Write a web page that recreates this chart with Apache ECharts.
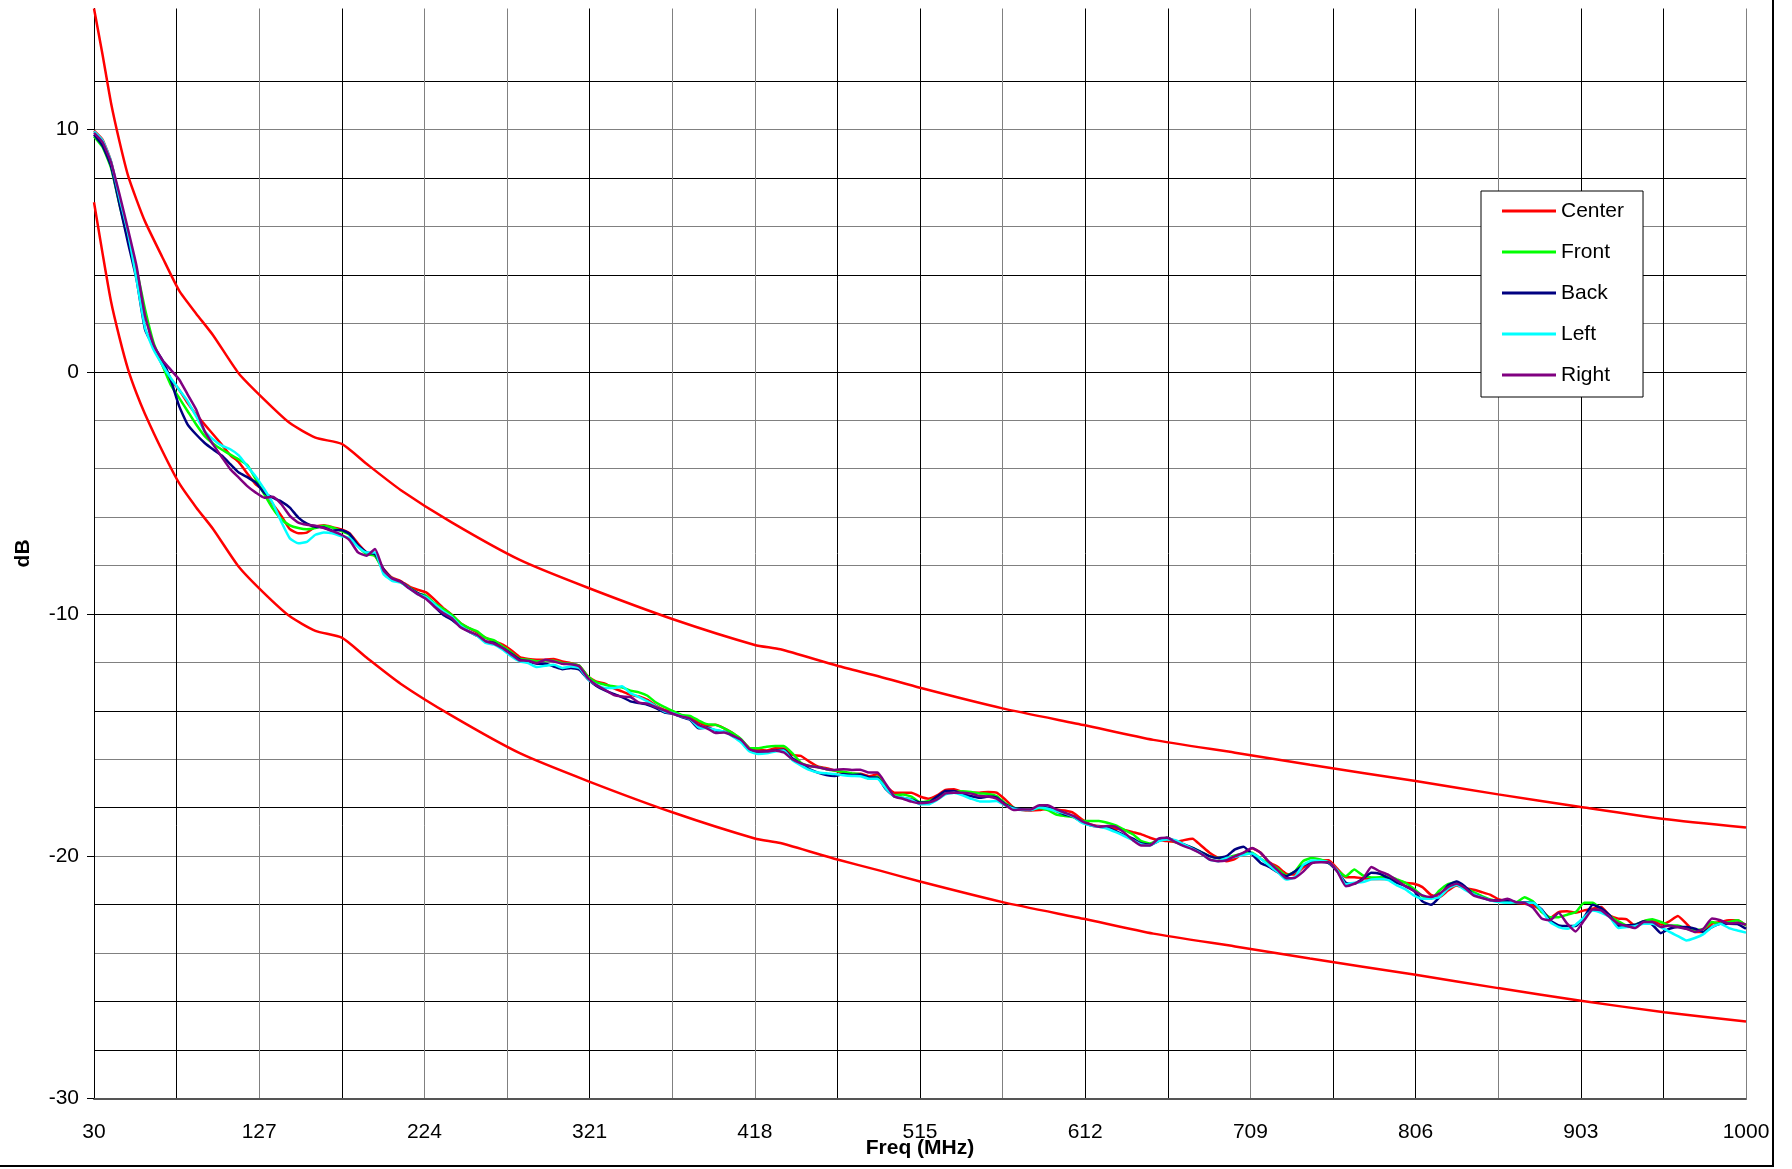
<!DOCTYPE html>
<html>
<head>
<meta charset="utf-8">
<title>Freq response</title>
<script src="https://cdn.jsdelivr.net/npm/echarts@6/dist/echarts.min.js"></script>
<style>
  html, body { margin: 0; padding: 0; background: #ffffff; }
  #chart { width: 1792px; height: 1169px; }
</style>
</head>
<body>
<div id="chart"></div>
<script>
// Measurement frequencies (MHz), 5 MHz steps
const freqs = [
  30, 35, 40, 45, 50, 55, 60, 65, 70, 75,
  80, 85, 90, 95, 100, 105, 110, 115, 120, 125,
  130, 135, 140, 145, 150, 155, 160, 165, 170, 175,
  180, 185, 190, 195, 200, 205, 210, 215, 220, 225,
  230, 235, 240, 245, 250, 255, 260, 265, 270, 275,
  280, 285, 290, 295, 300, 305, 310, 315, 320, 325,
  330, 335, 340, 345, 350, 355, 360, 365, 370, 375,
  380, 385, 390, 395, 400, 405, 410, 415, 420, 425,
  430, 435, 440, 445, 450, 455, 460, 465, 470, 475,
  480, 485, 490, 495, 500, 505, 510, 515, 520, 525,
  530, 535, 540, 545, 550, 555, 560, 565, 570, 575,
  580, 585, 590, 595, 600, 605, 610, 615, 620, 625,
  630, 635, 640, 645, 650, 655, 660, 665, 670, 675,
  680, 685, 690, 695, 700, 705, 710, 715, 720, 725,
  730, 735, 740, 745, 750, 755, 760, 765, 770, 775,
  780, 785, 790, 795, 800, 805, 810, 815, 820, 825,
  830, 835, 840, 845, 850, 855, 860, 865, 870, 875,
  880, 885, 890, 895, 900, 905, 910, 915, 920, 925,
  930, 935, 940, 945, 950, 955, 960, 965, 970, 975,
  980, 985, 990, 995, 1000
];

// Response per position (dB)
const center = [
  9.96, 9.59, 8.69, 7.11, 5.60, 3.94, 2.43, 1.05, 0.30, -0.32,
  -0.74, -1.29, -1.77, -2.18, -2.59, -3.01, -3.44, -3.73, -4.20, -4.65,
  -4.92, -5.47, -5.95, -6.50, -6.67, -6.64, -6.40, -6.34, -6.42, -6.50,
  -6.67, -7.09, -7.46, -7.60, -8.15, -8.50, -8.64, -8.86, -9.00, -9.11,
  -9.41, -9.75, -10.03, -10.37, -10.58, -10.76, -10.99, -11.13, -11.27, -11.50,
  -11.78, -11.86, -11.89, -11.89, -11.86, -11.96, -12.03, -12.14, -12.58, -12.80,
  -12.88, -13.06, -13.20, -13.34, -13.41, -13.55, -13.79, -13.96, -14.04, -14.18,
  -14.29, -14.48, -14.61, -14.58, -14.72, -14.92, -15.20, -15.55, -15.61, -15.64,
  -15.55, -15.56, -15.82, -15.86, -16.10, -16.30, -16.37, -16.47, -16.58, -16.61,
  -16.60, -16.70, -16.62, -17.10, -17.38, -17.38, -17.38, -17.54, -17.63, -17.49,
  -17.27, -17.24, -17.35, -17.38, -17.38, -17.35, -17.38, -17.66, -18.00, -18.10,
  -18.12, -18.10, -18.04, -18.07, -18.12, -18.21, -18.48, -18.69, -18.76, -18.79,
  -18.87, -18.92, -19.01, -19.10, -19.24, -19.34, -19.38, -19.42, -19.34, -19.28,
  -19.56, -19.86, -20.07, -20.21, -20.11, -19.86, -19.67, -19.86, -20.25, -20.44,
  -20.72, -20.76, -20.47, -20.29, -20.18, -20.17, -20.52, -20.87, -20.87, -20.91,
  -20.94, -20.94, -20.94, -21.00, -21.10, -21.14, -21.28, -21.60, -21.69, -21.42,
  -21.21, -21.32, -21.39, -21.49, -21.60, -21.79, -21.87, -21.93, -21.97, -22.04,
  -22.24, -22.56, -22.31, -22.28, -22.34, -22.24, -22.17, -22.10, -22.45, -22.58,
  -22.61, -22.89, -22.69, -22.65, -22.83, -22.69, -22.47, -22.79, -23.13, -23.13,
  -22.79, -22.72, -22.65, -22.65, -22.86
];

const front = [
  9.72, 9.28, 8.42, 6.90, 5.46, 4.22, 2.57, 1.19, 0.30, -0.53,
  -1.08, -1.63, -2.18, -2.66, -2.97, -3.21, -3.42, -3.62, -3.85, -4.44,
  -5.06, -5.65, -6.09, -6.34, -6.45, -6.50, -6.45, -6.36, -6.43, -6.57,
  -6.73, -7.19, -7.53, -7.60, -8.22, -8.53, -8.70, -8.90, -9.14, -9.25,
  -9.56, -9.79, -10.03, -10.37, -10.58, -10.72, -10.99, -11.09, -11.34, -11.59,
  -11.86, -11.89, -11.96, -11.92, -11.93, -12.03, -12.06, -12.14, -12.58, -12.83,
  -12.92, -12.99, -13.03, -13.17, -13.24, -13.38, -13.66, -13.85, -14.01, -14.17,
  -14.21, -14.40, -14.55, -14.58, -14.72, -14.92, -15.17, -15.55, -15.55, -15.48,
  -15.45, -15.45, -15.75, -16.14, -16.28, -16.33, -16.41, -16.47, -16.52, -16.58,
  -16.63, -16.80, -16.72, -17.17, -17.49, -17.46, -17.54, -17.77, -17.72, -17.59,
  -17.41, -17.35, -17.32, -17.35, -17.41, -17.43, -17.52, -17.82, -18.00, -18.07,
  -18.07, -18.01, -18.10, -18.28, -18.34, -18.39, -18.55, -18.55, -18.55, -18.62,
  -18.73, -18.92, -19.10, -19.38, -19.48, -19.34, -19.24, -19.42, -19.56, -19.66,
  -19.83, -20.00, -20.08, -20.07, -19.97, -19.89, -19.86, -20.11, -20.30, -20.52,
  -20.80, -20.64, -20.20, -20.08, -20.14, -20.28, -20.59, -20.83, -20.55, -20.80,
  -20.88, -20.87, -20.83, -20.96, -21.10, -21.35, -21.65, -21.76, -21.42, -21.16,
  -21.07, -21.32, -21.49, -21.65, -21.79, -21.87, -21.90, -21.90, -21.70, -21.87,
  -22.31, -22.52, -22.52, -22.42, -22.31, -21.93, -21.93, -22.20, -22.47, -22.69,
  -22.86, -22.83, -22.69, -22.61, -22.72, -22.86, -22.86, -23.00, -23.07, -23.00,
  -22.72, -22.79, -22.72, -22.65, -22.86
];

const back = [
  9.79, 9.34, 8.49, 6.90, 5.32, 3.81, 1.74, 1.05, 0.50, -0.32,
  -1.42, -2.18, -2.59, -2.94, -3.21, -3.46, -3.81, -4.16, -4.35, -4.58,
  -5.00, -5.20, -5.36, -5.61, -6.02, -6.27, -6.40, -6.43, -6.56, -6.53,
  -6.69, -7.16, -7.46, -7.53, -8.15, -8.56, -8.67, -8.92, -9.14, -9.31,
  -9.70, -10.03, -10.24, -10.51, -10.72, -10.90, -11.13, -11.20, -11.41, -11.64,
  -11.89, -11.96, -12.06, -12.06, -12.17, -12.28, -12.23, -12.30, -12.69, -12.97,
  -13.16, -13.30, -13.43, -13.61, -13.68, -13.75, -13.89, -14.07, -14.12, -14.26,
  -14.37, -14.72, -14.69, -14.81, -14.86, -15.03, -15.27, -15.64, -15.72, -15.68,
  -15.64, -15.61, -15.96, -16.19, -16.41, -16.55, -16.65, -16.69, -16.61, -16.65,
  -16.63, -16.75, -16.76, -17.24, -17.54, -17.60, -17.66, -17.79, -17.79, -17.54,
  -17.31, -17.31, -17.45, -17.52, -17.59, -17.54, -17.59, -17.86, -18.01, -18.07,
  -18.10, -17.96, -18.00, -18.14, -18.28, -18.37, -18.59, -18.73, -18.79, -18.83,
  -18.97, -19.14, -19.28, -19.48, -19.53, -19.38, -19.24, -19.38, -19.52, -19.66,
  -19.83, -20.00, -20.08, -20.00, -19.72, -19.61, -19.93, -20.28, -20.44, -20.66,
  -20.83, -20.64, -20.38, -20.25, -20.22, -20.29, -20.63, -21.10, -21.14, -20.94,
  -20.69, -20.73, -20.91, -21.10, -21.24, -21.43, -21.87, -22.01, -21.69, -21.21,
  -21.05, -21.25, -21.57, -21.71, -21.82, -21.84, -21.83, -21.90, -21.90, -21.93,
  -22.20, -22.65, -22.86, -22.89, -22.89, -22.52, -22.01, -22.15, -22.45, -22.89,
  -22.86, -22.83, -22.69, -22.83, -23.18, -23.00, -22.93, -22.93, -23.00, -23.13,
  -22.93, -22.79, -22.79, -22.80, -23.00
];

const left = [
  9.93, 9.56, 8.69, 7.18, 5.73, 3.81, 1.81, 0.91, 0.30, -0.25,
  -0.74, -1.22, -1.84, -2.46, -2.80, -3.05, -3.20, -3.45, -3.90, -4.33,
  -4.85, -5.43, -6.20, -6.88, -7.08, -7.02, -6.73, -6.64, -6.67, -6.78,
  -6.86, -7.23, -7.46, -7.46, -8.35, -8.63, -8.70, -8.94, -9.18, -9.31,
  -9.60, -9.89, -10.12, -10.48, -10.72, -10.90, -11.20, -11.27, -11.48, -11.75,
  -11.96, -12.03, -12.19, -12.14, -12.10, -12.23, -12.17, -12.23, -12.69, -12.92,
  -13.06, -13.06, -12.99, -13.27, -13.43, -13.61, -13.82, -14.03, -14.10, -14.23,
  -14.34, -14.68, -14.72, -14.79, -14.86, -15.06, -15.31, -15.68, -15.78, -15.75,
  -15.68, -15.64, -16.03, -16.25, -16.44, -16.55, -16.58, -16.61, -16.66, -16.69,
  -16.70, -16.80, -16.80, -17.21, -17.52, -17.59, -17.68, -17.86, -17.86, -17.68,
  -17.45, -17.38, -17.49, -17.63, -17.74, -17.74, -17.72, -17.90, -18.04, -18.10,
  -18.10, -17.99, -18.04, -18.14, -18.23, -18.37, -18.62, -18.73, -18.79, -18.87,
  -19.01, -19.17, -19.34, -19.52, -19.56, -19.38, -19.31, -19.34, -19.52, -19.70,
  -19.89, -20.14, -20.21, -20.08, -20.03, -19.94, -19.89, -20.11, -20.39, -20.66,
  -20.97, -20.87, -20.36, -20.18, -20.19, -20.25, -20.59, -21.16, -21.10, -21.07,
  -20.96, -20.94, -20.99, -21.21, -21.37, -21.62, -21.76, -21.76, -21.69, -21.35,
  -21.18, -21.39, -21.57, -21.71, -21.82, -21.90, -21.93, -21.90, -21.93, -21.93,
  -22.24, -22.72, -22.93, -23.00, -22.83, -22.52, -22.25, -22.34, -22.52, -22.97,
  -22.93, -22.89, -22.79, -22.79, -22.93, -23.13, -23.30, -23.48, -23.38, -23.22,
  -22.93, -22.79, -22.97, -23.07, -23.16
];

const right = [
  9.86, 9.48, 8.65, 7.32, 5.87, 4.36, 2.29, 1.12, 0.50, 0.09,
  -0.32, -0.94, -1.56, -2.46, -3.01, -3.52, -4.02, -4.37, -4.72, -4.99,
  -5.20, -5.16, -5.47, -5.95, -6.23, -6.32, -6.36, -6.45, -6.58, -6.72,
  -6.95, -7.46, -7.60, -7.32, -8.20, -8.53, -8.67, -8.94, -9.18, -9.38,
  -9.70, -9.96, -10.17, -10.54, -10.72, -10.87, -11.13, -11.23, -11.41, -11.67,
  -11.92, -11.93, -12.03, -11.89, -11.96, -12.06, -12.08, -12.17, -12.65, -12.94,
  -13.13, -13.34, -13.41, -13.43, -13.66, -13.71, -13.85, -13.99, -14.12, -14.23,
  -14.32, -14.58, -14.72, -14.92, -14.90, -15.03, -15.20, -15.59, -15.68, -15.68,
  -15.64, -15.72, -16.00, -16.17, -16.28, -16.33, -16.41, -16.44, -16.41, -16.44,
  -16.43, -16.55, -16.55, -17.03, -17.54, -17.63, -17.75, -17.82, -17.79, -17.66,
  -17.41, -17.38, -17.38, -17.42, -17.52, -17.54, -17.63, -17.88, -18.10, -18.07,
  -18.07, -17.90, -17.90, -18.07, -18.21, -18.34, -18.55, -18.69, -18.79, -18.76,
  -18.79, -19.03, -19.34, -19.56, -19.56, -19.28, -19.24, -19.42, -19.59, -19.72,
  -19.90, -20.14, -20.21, -20.17, -20.00, -19.86, -19.66, -19.86, -20.25, -20.58,
  -20.91, -20.90, -20.64, -20.29, -20.25, -20.25, -20.63, -21.24, -21.14, -20.96,
  -20.45, -20.63, -20.77, -21.00, -21.24, -21.43, -21.62, -21.69, -21.55, -21.28,
  -21.14, -21.32, -21.62, -21.73, -21.82, -21.84, -21.76, -21.90, -21.93, -22.14,
  -22.58, -22.65, -22.34, -22.79, -23.11, -22.65, -22.20, -22.24, -22.52, -22.79,
  -22.89, -22.97, -22.72, -22.72, -22.93, -22.86, -22.93, -23.00, -23.13, -23.00,
  -22.58, -22.65, -22.79, -22.75, -22.83
];

// Limit mask (dB)
const limitFreqs = [
  30, 35, 40, 45, 50, 55, 60, 70, 80, 90, 100, 115, 130, 145, 160, 175.5,
  190, 210, 240, 280, 320, 370, 418, 433, 466.5, 491.5, 515, 563.5, 612, 652,
  700, 744, 806, 854.5, 903, 952, 1000
];
const upperLimit = [
  15.0, 13.1, 11.1, 9.5, 8.1, 7.1, 6.2, 4.75, 3.35, 2.4, 1.5, -0.07, -1.15, -2.12, -2.72, -2.98,
  -3.8, -4.88, -6.22, -7.77, -8.92, -10.22, -11.28, -11.46, -12.14, -12.59, -13.05, -13.9, -14.6, -15.2,
  -15.73, -16.23, -16.9, -17.45, -17.97, -18.47, -18.82
];
const lowerLimit = [
  7.0, 4.9, 2.9, 1.4, 0.1, -0.9, -1.75, -3.25, -4.6, -5.6, -6.5, -8.05, -9.15, -10.1, -10.7, -10.98,
  -11.8, -12.88, -14.2, -15.75, -16.9, -18.2, -19.27, -19.46, -20.14, -20.6, -21.05, -21.9, -22.6, -23.2,
  -23.73, -24.23, -24.9, -25.45, -25.97, -26.45, -26.83
];

// Axis ticks
const xGridValues = [30, 78.5, 127, 175.5, 224, 272.5, 321, 369.5, 418, 466.5, 515,
  563.5, 612, 660.5, 709, 757.5, 806, 854.5, 903, 951.5, 1000];
const xLabelValues = [30, 127, 224, 321, 418, 515, 612, 709, 806, 903, 1000];
const yGridValues = [-30, -28, -26, -24, -22, -20, -18, -16, -14, -12, -10, -8, -6, -4, -2,
  0, 2, 4, 6, 8, 10, 12, 14];
const yLabelValues = [-30, -20, -10, 0, 10];

const FONT = '"Liberation Sans", Arial, Helvetica, sans-serif';
const BLK = '#000000';
const GRY = '#808080';

const toPoints = (xs, ys) => xs.map((x, i) => [x, ys[i]]);

function trace(name, values, color) {
  return {
    type: 'line', name: name,
    data: toPoints(freqs, values),
    showSymbol: false, symbol: 'none',
    smooth: 0.15,
    lineStyle: { color: color, width: 2.5 },
    itemStyle: { color: color },
    emphasis: { disabled: true }
  };
}
function limit(name, values) {
  return {
    type: 'line', name: name,
    data: toPoints(limitFreqs, values),
    showSymbol: false, symbol: 'none',
    smooth: 0.2,
    lineStyle: { color: '#ff0000', width: 2.5 },
    itemStyle: { color: '#ff0000' },
    emphasis: { disabled: true }
  };
}

const chart = echarts.init(document.getElementById('chart'), null, { renderer: 'canvas', width: 1792, height: 1169 });

chart.setOption({
  animation: false,
  backgroundColor: '#ffffff',
  grid: { left: 94, right: 46, top: 8.5, bottom: 70.7, containLabel: false, outerBoundsMode: 'none' },
  xAxis: {
    type: 'value', min: 30, max: 1000, position: 'bottom',
    axisLine: { show: true, onZero: false, lineStyle: { color: '#555555', width: 2 } },
    axisTick: { show: false, customValues: xGridValues },
    axisLabel: {
      customValues: xLabelValues, margin: 23,
      fontSize: 21, color: BLK, fontFamily: FONT,
      formatter: v => String(v)
    },
    splitLine: {
      show: true,
      lineStyle: {
        width: 1,
        color: [BLK, BLK, GRY, BLK, GRY, GRY, BLK, GRY, GRY, BLK, BLK,
                GRY, BLK, BLK, GRY, BLK, BLK, GRY, BLK, BLK, GRY]
      }
    },
    name: 'Freq (MHz)', nameLocation: 'middle', nameGap: 39, nameMoveOverlap: false,
    nameTextStyle: { fontSize: 21, fontWeight: 'bold', color: BLK, fontFamily: FONT }
  },
  yAxis: [
    {
      type: 'value', min: -30, max: 15, position: 'left',
      axisLine: { show: true, onZero: false, lineStyle: { color: BLK, width: 1 } },
      axisTick: { show: false, customValues: yGridValues },
      axisLabel: {
        customValues: yLabelValues, margin: 15,
        fontSize: 21, color: BLK, fontFamily: FONT,
        formatter: v => String(v)
      },
      splitLine: {
        show: true, showMaxLine: false,
        lineStyle: {
          width: 1,
          color: [GRY, BLK, BLK, GRY, BLK, GRY, BLK, GRY, BLK, GRY, BLK, GRY,
                  GRY, GRY, GRY, BLK, GRY, BLK, GRY, BLK, GRY, BLK, GRY]
        }
      },
      name: 'dB', nameLocation: 'middle', nameGap: 60, nameRotate: 90, nameMoveOverlap: false,
      nameTextStyle: { fontSize: 21, fontWeight: 'bold', color: BLK, fontFamily: FONT }
    },
    {
      type: 'value', min: -30, max: 15, position: 'left',
      axisLine: { show: false, onZero: false },
      axisTick: { show: true, length: 7, customValues: yLabelValues, lineStyle: { color: BLK, width: 1 } },
      axisLabel: { show: false },
      splitLine: { show: false }
    }
  ],
  legend: {
    data: ['Center', 'Front', 'Back', 'Left', 'Right'],
    orient: 'vertical',
    left: 1481, top: 191,
    padding: [9, 19, 11, 21],
    itemGap: 19,
    itemWidth: 54, itemHeight: 3,
    icon: 'rect',
    backgroundColor: '#ffffff',
    borderColor: '#000000', borderWidth: 1,
    textStyle: { fontSize: 21, color: BLK, fontFamily: FONT, lineHeight: 22 },
    selectedMode: false
  },
  graphic: [{
    type: 'rect', silent: true, z: 100,
    shape: { x: -2, y: -2, width: 1775, height: 1168 },
    style: { fill: 'none', stroke: '#000000', lineWidth: 2 }
  }],
  series: [
    limit('Upper limit', upperLimit),
    limit('Lower limit', lowerLimit),
    trace('Center', center, '#ff0000'),
    trace('Front', front, '#00ff00'),
    trace('Back', back, '#000080'),
    trace('Left', left, '#00ffff'),
    trace('Right', right, '#800080')
  ]
});
</script>
</body>
</html>
